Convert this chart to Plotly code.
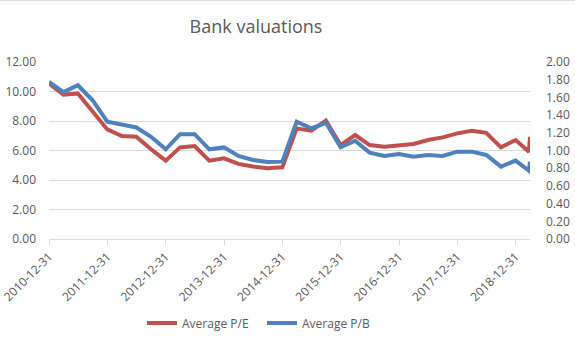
import plotly.graph_objects as go

dates = ["2010-12-31", "2011-03-31", "2011-06-30", "2011-09-30", "2011-12-31",
         "2012-03-31", "2012-06-30", "2012-09-30", "2012-12-31",
         "2013-03-31", "2013-06-30", "2013-09-30", "2013-12-31",
         "2014-03-31", "2014-06-30", "2014-09-30", "2014-12-31",
         "2015-03-31", "2015-06-30", "2015-09-30", "2015-12-31",
         "2016-03-31", "2016-06-30", "2016-09-30", "2016-12-31",
         "2017-03-31", "2017-06-30", "2017-09-30", "2017-12-31",
         "2018-03-31", "2018-06-30", "2018-09-30", "2018-12-31",
         "2019-03-24", "2019-03-31"]

pe = [10.55, 9.79, 9.86, 8.62, 7.43, 6.98, 6.93, 6.08, 5.31,
      6.21, 6.30, 5.31, 5.47, 5.09, 4.91, 4.80, 4.86,
      7.50, 7.34, 8.02, 6.37, 7.05, 6.37, 6.26, 6.37,
      6.44, 6.71, 6.89, 7.16, 7.34, 7.20, 6.21, 6.71,
      5.92, 6.93]

pb = [1.775, 1.66, 1.737, 1.568, 1.325, 1.298, 1.26, 1.155, 1.013,
      1.185, 1.185, 1.013, 1.035, 0.938, 0.893, 0.870, 0.874,
      1.325, 1.25, 1.313, 1.036, 1.11, 0.976, 0.938, 0.96,
      0.93, 0.949, 0.938, 0.987, 0.987, 0.95, 0.818, 0.886,
      0.773, 0.874]

tick_dates = ["2010-12-31", "2011-12-31", "2012-12-31", "2013-12-31", "2014-12-31",
              "2015-12-31", "2016-12-31", "2017-12-31", "2018-12-31"]

left_ticks = [0, 2, 4, 6, 8, 10, 12]
right_ticks = [0, 0.2, 0.4, 0.6, 0.8, 1.0, 1.2, 1.4, 1.6, 1.8, 2.0]

FONT = "Open Sans"
GREY = "#595959"
GRID = "#D9D9D9"

fig = go.Figure()
fig.add_trace(go.Scatter(x=dates, y=pe, name="Average P/E", mode="lines",
                         line=dict(color="#C0504D", width=4), yaxis="y"))
fig.add_trace(go.Scatter(x=dates, y=pb, name="Average P/B", mode="lines",
                         line=dict(color="#4F81BD", width=4), yaxis="y2"))

fig.update_layout(
    width=575, height=348,
    margin=dict(l=49, r=45, t=62, b=109, autoexpand=False),
    paper_bgcolor="white", plot_bgcolor="white",
    font=dict(family=FONT, size=12, color=GREY),
    title=dict(text="Bank valuations", x=(256 - 49) / 481, xref="paper", xanchor="center",
               y=1 - 27/348, yanchor="middle",
               font=dict(family=FONT, size=18, color=GREY)),
    showlegend=True,
    legend=dict(orientation="h", x=(262 - 49) / 481, xanchor="center", y=-0.475, yanchor="middle",
                font=dict(family=FONT, size=12, color=GREY), itemwidth=30,
                entrywidth=75, traceorder="normal"),
    xaxis=dict(type="date", range=["2010-12-31", "2019-03-31"], automargin=False,
               tickvals=tick_dates, ticktext=tick_dates, tickangle=-45,
               ticklabeloverflow="allow",
               showgrid=False, showline=True, linecolor=GRID, linewidth=1,
               ticks="outside", ticklen=5, tickcolor=GRID,
               tickfont=dict(family=FONT, size=12, color=GREY)),
    yaxis=dict(range=[0, 12], tickvals=left_ticks, automargin=False,
               ticktext=[f"{v:.2f}" for v in left_ticks],
               showgrid=True, gridcolor=GRID, gridwidth=1, zeroline=False,
               showline=False, ticklabelstandoff=12,
               tickfont=dict(family=FONT, size=12, color=GREY)),
    yaxis2=dict(range=[0, 2], tickvals=right_ticks, automargin=False,
                ticktext=[f"{v:.2f}" for v in right_ticks],
                overlaying="y", side="right", showgrid=False, zeroline=False,
                showline=False, ticklabelstandoff=15,
                tickfont=dict(family=FONT, size=12, color=GREY)),
    shapes=[dict(type="line", xref="paper", yref="paper", x0=-49/481, x1=1+45/481,
                 y0=1+62/177, y1=1+62/177, line=dict(color=GRID, width=2))],
)

fig.write_html("out.html")
